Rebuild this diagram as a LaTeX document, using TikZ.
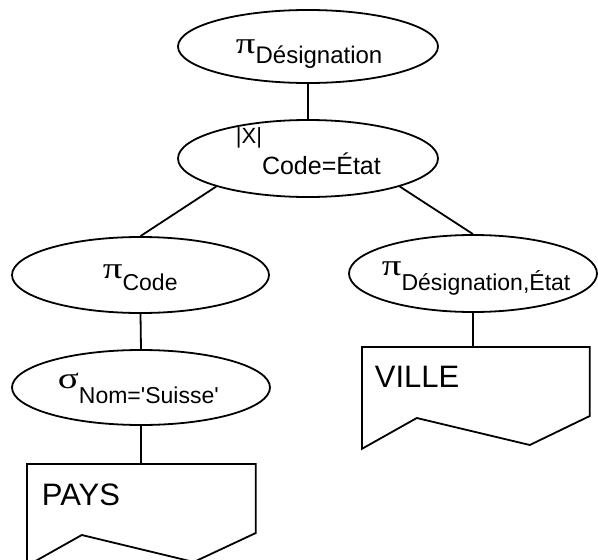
\documentclass[tikz,border=0pt]{standalone}
\usepackage{fontspec}
\usepackage{graphicx}
% Arial-metric sans for labels; plain family keeps the straight apostrophe
\newfontfamily\arial{Liberation Sans}
\newfontfamily\greekfont{Liberation Serif}
\usetikzlibrary{shapes.geometric}
% operator symbol (wide Greek letter) and its lowered subscript
\newcommand{\opsym}[1]{\scalebox{1.3}[1]{\greekfont\fontsize{30}{30}\selectfont #1}}
\newcommand{\opsub}[3][23]{\raisebox{-#2pt}{\arial\fontsize{#1}{#1}\selectfont #3}}

\begin{document}
\begin{tikzpicture}[x=1pt,y=-1pt,line width=1.8pt,
  opnode/.style={draw, ellipse, inner sep=0pt},
  tablebox/.style={inner sep=0pt, minimum height=100pt, anchor=north west},
  optext/.style={anchor=base west, inner sep=0pt},
  tabletext/.style={anchor=base west, inner sep=0pt, font=\arial\fontsize{31}{31}\selectfont},
  link/.style={draw}]
\useasboundingbox (0,0) rectangle (598,560);

% operator ellipses
\node[opnode, minimum width=260pt, minimum height=73pt] (proj) at (308,46.5) {};
\node[opnode, minimum width=260pt, minimum height=77pt] (join) at (308,158.5) {};
\node[opnode, minimum width=257pt, minimum height=76pt] (pcode) at (140.5,275) {};
\node[opnode, minimum width=248pt, minimum height=77pt] (pville) at (473,273.5) {};
\node[opnode, minimum width=258pt, minimum height=75pt] (sel) at (141,387.5) {};

% operator labels
\node[optext] (projlbl) at (235,53) {\opsym{π}\opsub[24]{10}{Désignation}};
\node[optext] (joinlbl) at (235,143) {\arial\fontsize{22}{22}\selectfont |X|\raisebox{-31pt}{\fontsize{25}{25}\selectfont Code=État}};
\node[optext] (pcodelbl) at (102,278) {\opsym{π}\opsub{12}{Code}};
\node[optext] (pvillelbl) at (381,275) {\opsym{π}\opsub{15}{Désignation,État}};
\node[optext] (sellbl) at (57,388) {\opsym{σ}\opsub{15}{Nom='Suisse'}};

% relation boxes
\node[tablebox, minimum width=227pt] (pays) at (27,464) {};
\node[tablebox, minimum width=226pt] (ville) at (362,347) {};
\draw (pays.north west) -- (pays.north east) -- ++(0,69) -- ++(-62,29)
      -- ++(-112,-27) -- (pays.south west) -- cycle;
\draw (ville.north west) -- (ville.north east) -- ++(0,69) -- ++(-60,29)
      -- ++(-113,-27) -- (ville.south west) -- cycle;
\node[tabletext] (payslbl) at (41,505) {PAYS};
\node[tabletext] (villelbl) at (374,387) {VILLE};

% connectors
\path[link] (proj.south) -- (join.north);
\path[link] (join.197) -- (pcode.north);
\path[link] (join.-17) -- (pville.north);
\path[link] (pcode.south) -- (sel.north);
\path[link] (sel.south) -- (sel.south |- pays.north);
\path[link] (pville.south) -- (pville.south |- ville.north);
\end{tikzpicture}
\end{document}
